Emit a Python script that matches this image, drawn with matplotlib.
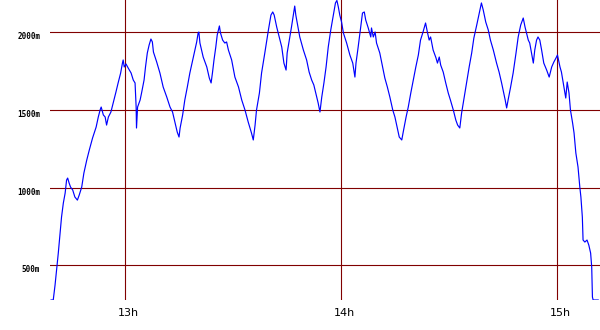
import matplotlib
matplotlib.use("Agg")
import matplotlib.pyplot as plt
import matplotlib.transforms as mtransforms

# time in minutes after 12:00, altitude in metres
minutes = [39.5, 40.1, 40.6, 41.1, 41.5, 42.0, 42.4, 42.9, 43.4, 43.8, 44.1, 44.5, 44.9, 45.5,
           46.1, 46.8, 47.3, 48.0, 48.6, 49.4, 50.1, 51.0, 52.0, 52.6, 53.1, 53.4, 54.0, 54.5,
           54.9, 55.4, 56.1, 56.8, 57.5, 58.1, 58.8, 59.3, 59.5, 59.8, 60.3, 60.9, 61.7, 62.3,
           62.8, 63.1, 63.2, 63.5, 64.2, 64.6, 65.3, 65.7, 66.2, 66.7, 67.2, 67.6, 67.9, 68.8,
           69.7, 70.6, 71.6, 72.5, 73.2, 73.9, 74.5, 75.0, 75.3, 76.0, 76.6, 77.3, 78.0, 78.8,
           79.4, 79.9, 80.3, 80.5, 80.8, 81.7, 82.7, 83.4, 83.9, 84.3, 84.7, 85.2, 85.6, 86.2,
           86.5, 87.1, 87.7, 88.2, 88.7, 89.6, 90.5, 91.5, 92.4, 93.3, 94.2, 95.1, 95.6, 96.1,
           96.5, 97.3, 97.9, 98.8, 99.8, 100.5, 101.0, 101.4, 102.1, 102.8, 103.5, 104.1, 104.7,
           105.0, 105.6, 106.2, 106.7, 107.1, 107.4, 107.8, 108.5, 109.5, 110.4, 111.1, 111.8,
           112.4, 113.2, 113.6, 114.1, 114.6, 115.2, 115.8, 116.4, 117.1, 117.8, 118.4, 118.8,
           119.2, 119.6, 120.1, 120.6, 121.5, 122.4, 123.2, 123.8, 124.1, 124.7, 125.4, 125.9,
           126.4, 126.8, 127.5, 128.2, 128.4, 128.9, 129.4, 129.8, 130.7, 131.5, 132.1, 132.8,
           133.5, 134.3, 134.9, 135.5, 136.1, 136.8, 137.2, 138.0, 138.6, 139.3, 140.0, 140.7,
           141.4, 142.0, 142.7, 143.4, 143.9, 144.4, 144.8, 145.5, 146.3, 146.7, 147.2, 147.6,
           148.3, 149.0, 149.7, 150.3, 151.1, 151.8, 152.3, 152.9, 153.4, 154.0, 154.8, 155.5,
           156.2, 156.8, 157.6, 158.3, 158.9, 159.4, 160.1, 160.8, 161.4, 162.2, 163.1, 163.8,
           164.5, 165.1, 165.5, 165.9, 166.3, 167.0, 167.7, 168.5, 169.1, 169.8, 170.5, 171.0,
           171.4, 171.9, 172.3, 172.8, 173.3, 173.7, 174.2, 174.6, 175.1, 175.6, 176.2, 177.0,
           177.7, 178.4, 179.0, 179.6, 180.0, 180.7, 181.1, 181.6, 182.3, 182.7, 183.2, 183.6,
           184.2, 184.6, 185.1, 185.7, 186.2, 186.5, 186.9, 187.1, 187.6, 188.2, 188.7, 189.2,
           189.5, 189.7, 189.9, 191.3]
altitude = [277, 277, 373, 489, 579, 708, 811, 901, 965, 1049, 1062, 1030, 1004, 985,
            940, 920, 952, 1004, 1094, 1178, 1242, 1319, 1390, 1455, 1500, 1519, 1468, 1455,
            1403, 1455, 1487, 1551, 1616, 1674, 1738, 1802, 1822, 1777, 1796, 1770, 1738, 1693,
            1674, 1519, 1384, 1519, 1564, 1609, 1693, 1777, 1867, 1918, 1957, 1938, 1873, 1809,
            1738, 1648, 1583, 1519, 1487, 1416, 1358, 1326, 1384, 1468, 1564, 1648, 1738, 1822,
            1886, 1938, 1996, 2002, 1931, 1841, 1777, 1706, 1674, 1744, 1822, 1905, 1983, 2041,
            1996, 1950, 1931, 1938, 1886, 1822, 1712, 1648, 1564, 1500, 1422, 1352, 1307, 1403,
            1500, 1609, 1738, 1867, 2015, 2111, 2131, 2111, 2034, 1970, 1905, 1802, 1757,
            1867, 1950, 2034, 2111, 2169, 2111, 2060, 1970, 1886, 1822, 1744, 1693,
            1661, 1583, 1545, 1487, 1583, 1674, 1777, 1905, 2015, 2111, 2189, 2205,
            2163, 2111, 2066, 1996, 1931, 1854, 1802, 1712, 1802, 1905, 2034, 2124,
            2131, 2079, 2028, 1970, 2028, 1970, 2002, 1931, 1867, 1777, 1706, 1648,
            1583, 1500, 1455, 1390, 1326, 1307, 1358, 1455, 1519, 1609, 1693, 1777,
            1854, 1950, 2002, 2060, 2002, 1950, 1970, 1886, 1835, 1802, 1841, 1789,
            1744, 1674, 1609, 1564, 1500, 1435, 1403, 1384, 1480, 1564, 1674, 1777,
            1867, 1963, 2047, 2124, 2189, 2144, 2066, 2015, 1950, 1886, 1802, 1744,
            1674, 1609, 1564, 1513, 1564, 1648, 1738, 1867, 1970, 2047, 2092, 2034,
            1996, 1950, 1931, 1867, 1802, 1886, 1950, 1970, 1950, 1886, 1802, 1757,
            1712, 1777, 1809, 1835, 1854, 1777, 1744, 1674, 1577, 1680, 1609, 1500,
            1416, 1352, 1223, 1133, 1004, 940, 811, 663, 650, 663, 630, 579,
            489, 296, 277, 277]

hour_ticks = [60, 120, 180]
hour_labels = ['13h', '14h', '15h']
alt_ticks = [500, 1000, 1500, 2000]
alt_labels = ['500m', '1000m', '1500m', '2000m']

fig = plt.figure(figsize=(6, 3.3), dpi=100)
ax = fig.add_axes([50/600, 30/330, 550/600, 300/330])

ax.plot(minutes, altitude, color='#0000ff', lw=0.85, zorder=3)

ax.set_xlim(39.2, 191.8)
ax.set_ylim(277, 2208)

ax.set_xticks(hour_ticks)
ax.set_xticklabels(hour_labels, fontsize=8, family='DejaVu Sans')
ax.set_yticks(alt_ticks)
ax.set_yticklabels(alt_labels, fontsize=5.5, family='DejaVu Sans Mono', fontweight='bold')
ax.tick_params(length=0)
ax.tick_params(axis='x', pad=5.5)
ax.tick_params(axis='y', pad=7)

# shift labels a little like in the original
for lab in ax.get_xticklabels():
    lab.set_transform(lab.get_transform() + mtransforms.ScaledTranslation(3/100, 0, fig.dpi_scale_trans))
for lab in ax.get_yticklabels():
    lab.set_transform(lab.get_transform() + mtransforms.ScaledTranslation(0, -3.5/100, fig.dpi_scale_trans))

ax.grid(True, color='#800000', lw=0.8)
ax.set_axisbelow(True)
for s in ax.spines.values():
    s.set_visible(False)

fig.savefig('out.png', dpi=100)
